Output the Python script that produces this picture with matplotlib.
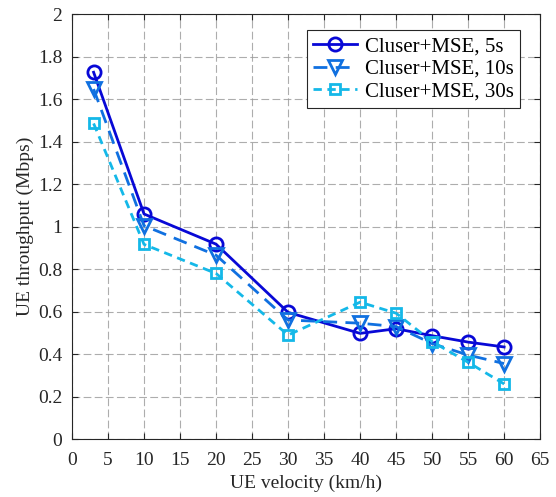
import matplotlib
matplotlib.use("Agg")
import matplotlib.pyplot as plt

velocity = [3, 10, 20, 30, 40, 45, 50, 55, 60]
tp_5s = [1.727, 1.06, 0.918, 0.597, 0.498, 0.52, 0.487, 0.457, 0.434]
tp_10s = [1.648, 1.005, 0.866, 0.561, 0.546, 0.53, 0.45, 0.396, 0.356]
tp_30s = [1.486, 0.917, 0.78, 0.49, 0.645, 0.593, 0.459, 0.362, 0.26]
labels = ["Cluser+MSE, 5s", "Cluser+MSE, 10s", "Cluser+MSE, 30s"]
xticks = list(range(0, 70, 5))
yticks = [0, 0.2, 0.4, 0.6, 0.8, 1, 1.2, 1.4, 1.6, 1.8, 2]
yticklabels = ["0", "0.2", "0.4", "0.6", "0.8", "1", "1.2", "1.4", "1.6", "1.8", "2"]

plt.rcParams['font.family'] = ['Liberation Serif', 'DejaVu Serif']
plt.rcParams['font.size'] = 14

fig = plt.figure(figsize=(5.56, 4.97), dpi=100)
ax = fig.add_axes([0.1295, 0.1163, 0.842, 0.855])

c1, c2, c3 = '#0808d6', '#1070e0', '#14b8e8'
ax.plot(velocity, tp_5s, '-', color=c1, lw=2, marker='o', ms=9.5, mfc='none', mew=2, label=labels[0])
ax.plot(velocity, tp_10s, color=c2, lw=2, ls=(0, (5, 3)), marker='v', ms=10, mfc='none', mew=2, label=labels[1])
ax.plot(velocity, tp_30s, color=c3, lw=2, ls=(0, (3, 2)), marker='s', ms=7, mfc='none', mew=2, label=labels[2])

ax.set_xlim(0, 65)
ax.set_ylim(0, 2)
ax.set_xticks(xticks)
ax.set_yticks(yticks)
ax.set_yticklabels(yticklabels)
ax.grid(True, ls=(0, (7, 3)), color='#999999', lw=0.8, alpha=0.8)
ax.tick_params(direction='in', top=True, right=True, length=4, width=0.8, colors='#262626', labelcolor='#262626')
ax.tick_params(axis='x', pad=9)
ax.tick_params(axis='y', pad=7)
for s in ax.spines.values():
    s.set_color('#262626')
    s.set_linewidth(0.8)
ax.set_xlabel('UE velocity (km/h)', color='#262626', labelpad=4)
ax.set_ylabel('UE throughput (Mbps)', color='#262626', labelpad=3)

leg = ax.legend(loc='upper right', fancybox=False, edgecolor='#262626', framealpha=1,
                fontsize=15, handlelength=2.1, borderpad=0.3, labelspacing=0.15, handletextpad=0.4,
                borderaxespad=0, bbox_to_anchor=(0.957, 0.962))
leg.get_frame().set_linewidth(0.8)

fig.savefig('out.png', dpi=100)
